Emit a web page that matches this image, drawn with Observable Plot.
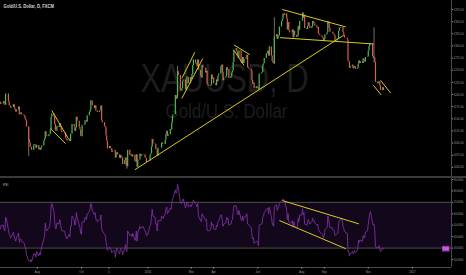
<!DOCTYPE html>
<html><head><meta charset="utf-8">
<script src="https://cdn.jsdelivr.net/npm/d3@7"></script>
<script src="https://cdn.jsdelivr.net/npm/@observablehq/plot@0.6"></script>
<style>
html,body{margin:0;padding:0;background:#000;overflow:hidden}
#wrap{position:relative;width:466px;height:275px;background:#000}
#price{position:absolute;left:0;top:0}
#rsi{position:absolute;left:0;top:177px}
#sep{position:absolute;left:0;top:176px;width:466px;height:1.5px;background:#3a3a3a}
svg{display:block}
</style></head><body>
<div id="wrap"><div id="price"></div><div id="rsi"></div><div id="sep"></div></div>
<script>
const title = "Gold/U.S. Dollar, D, FXCM";
const watermark = "XAUUSD, D";
const watermarkSub = "Gold/U.S. Dollar";
const startDate = "2015-06-11";
const firstOpen = 1184;
const closes = [
1180,1181,
1185,1180,1178,1201,1201, 1185,1177,1176,1172,1173, 1179,1172,1168,1164,1168,
1174,1158,1160,1162,1158, 1157,1155,1149,1146,1133, 1107,1101,1091,1091,1085, 1096,1095,1096,1089,1095,
1086,1089,1085,1090,1094, 1104,1108,1123,1115,1113, 1117,1118,1127,1153,1160, 1154,1138,1125,1124,1134, 1132,1140,1134,1125,1121,
1121,1121,1110,1108,1104, 1108,1103,1118,1118,1138, 1133,1124,1131,1153,1145, 1132,1127,1114,1113,1136,
1137,1146,1146,1143,1156, 1163,1167,1187,1186,1177, 1171,1176,1166,1166,1163, 1166,1166,1176,1146,1142,
1134,1132,1115,1104,1088, 1093,1089,1088,1081,1083, 1084,1069,1075,1080,1076, 1068,1074,1071,1069,1056, 1064,1069,1053,1051,1085,
1075,1074,1076,1071,1075, 1062,1061,1076,1050,1065, 1077,1073,1075,1075,1076, 1069,1068,1060,1062,1062,
1075,1078,1092,1107,1098, 1097,1086,1086,1072,1089, 1090,1090,1100,1098,1097, 1106,1118,1124,1114,1117,
1128,1127,1141,1156,1158, 1198,1190,1195,1247,1239, 1209,1207,1212,1227,1230, 1209,1221,1236,1235,1222, 1235,1231,1241,1259,1271,
1263,1261,1257,1271,1250, 1237,1234,1260,1254,1254, 1244,1248,1221,1218,1217, 1219,1240,1232,1234,1222,
1218,1230,1226,1238,1242, 1257,1260,1245,1228,1234, 1237,1255,1250,1251,1233, 1237,1244,1248,1266,1291,
1294,1288,1279,1275,1290, 1266,1264,1276,1264,1272, 1275,1281,1255,1253,1252, 1248,1229,1221,1223,1212, 1216,1216,1213,1210,1242,
1244,1245,1260,1263,1274, 1284,1284,1289,1279,1298, 1279,1268,1265,1263,1318, 1323,1313,1318,1321,1339,
1350,1355,1365,1363,1366, 1356,1333,1348,1331,1327, 1328,1333,1317,1330,1322, 1318,1320,1340,1332,1350,
1351,1368,1357,1363,1336, 1334,1340,1347,1341,1336, 1340,1350,1348,1345,1341, 1337,1338,1325,1323,1321, 1318,1316,1309,1313,1323,
1327,1350,1346,1336,1328, 1328,1324,1324,1321,1310, 1314,1314,1330,1336,1338, 1338,1327,1322,1317,1316,
1312,1269,1267,1254,1257, 1260,1253,1255,1257,1252, 1254,1262,1269,1264,1267, 1264,1273,1268,1267,1276, 1277,1289,1299,1303,1304,
1278,1274,1275,1266,1225, 1222,1225,1226,1217,1208,
1214,1208
];
const rsiValues = [
47,50,
50,46,45,57,56, 46,42,41,39,40, 44,40,38,36,39,
43,35,37,38,36, 35,34,31,29,24, 19,19,18,20,18, 25,24,25,22,27,
23,26,24,28,31, 38,41,52,47,45, 48,49,54,66,69, 62,53,47,47,52, 51,55,51,47,45,
45,45,40,40,38, 42,40,49,49,58, 55,50,53,61,57, 50,48,43,42,53,
53,57,57,55,60, 62,64,69,68,63, 59,61,55,55,53, 55,55,59,47,45,
42,41,36,32,28, 31,29,29,26,27, 28,22,27,30,28, 25,30,29,28,24, 30,33,28,27,45,
41,41,42,40,43, 37,37,45,36,43, 49,47,48,48,49, 45,44,41,42,42,
50,51,58,64,58, 57,51,51,45,54, 54,54,58,57,56, 60,64,66,60,61,
65,64,69,73,74, 81,78,79,86,83, 70,69,70,72,73, 65,67,70,70,66, 68,66,68,70,72,
69,68,66,69,58, 54,53,60,58,58, 54,55,46,45,45, 46,53,50,51,47,
46,50,49,53,54, 59,59,54,49,51, 52,57,55,56,50, 51,54,55,61,67,
67,64,60,59,63, 55,54,58,54,57, 58,60,51,51,50, 48,41,38,39,34, 36,36,35,32,50,
51,51,57,58,61, 64,64,65,60,66, 57,52,50,49,66, 68,63,65,66,69,
71,72,73,72,71, 64,55,60,53,52, 52,54,48,53,50, 48,49,56,53,59,
59,64,59,61,51, 50,52,55,53,51, 53,56,55,54,52, 50,51,46,45,44, 42,42,39,41,46,
48,58,56,51,48, 48,46,46,45,41, 43,43,51,54,55, 55,49,47,45,44,
43,27,27,23,25, 27,25,26,28,26, 28,33,37,35,37, 36,41,39,39,44, 45,51,56,60,62,
52,50,51,45,31, 30,31,32,29,27,
30,29
];
const wickDates = ["2015-07-20","2015-12-03","2016-02-11","2016-06-24","2016-11-09"];
const wickHighs = [1133,1062,1258,1358,1337];
const wickLows  = [1072,1046,1192,1262,1265];
const priceTicks = [1050,1075,1100,1125,1150,1175,1200,1225,1250,1275,1300,1325,1350,1375];
const rsiTicks = [20,30,40,50,60,70,80,90];
const rsiBand = [30,70];
const dateTickDates = ["2015-08-01","2015-10-01","2015-11-08","2016-01-01","2016-03-01","2016-04-01","2016-06-01","2016-08-01","2016-09-01","2016-11-01","2017-01-01"];
const dateTickLabels = ["Aug","Oct","5","2016","Mar","Apr","Jun","Aug","Sep","Nov","2017"];
const priceTrendFrom = [["2015-08-21",1167],["2015-08-19",1130],["2015-12-14",1045],["2016-02-17",1233],["2016-02-17",1192],["2016-04-29",1302],["2016-04-29",1291],["2016-07-05",1375],["2016-07-02",1317],["2016-11-08",1219],["2016-11-18",1229]];
const priceTrendTo   = [["2015-09-13",1109],["2015-09-09",1099],["2016-09-28",1322],["2016-03-06",1287],["2016-03-17",1274],["2016-05-21",1282],["2016-05-13",1260],["2016-10-01",1339],["2016-11-08",1304],["2016-11-19",1199],["2016-12-02",1203]];
const rsiTrendFrom = [["2016-07-05",71.6],["2016-07-01",54.1]];
const rsiTrendTo   = [["2016-10-19",51.2],["2016-10-01",29.4]];

const up = "#4fba55", down = "#d9604a", yellow = "#d8ca1e";
const D = s => new Date(s + "T00:00:00Z");
function tradingDates(start, n) {
  const out = []; let d = D(start);
  while (out.length < n) { const w = d.getUTCDay(); if (w !== 0 && w !== 6) out.push(new Date(d)); d = new Date(d.getTime() + 864e5); }
  return out;
}
const n = Math.min(closes.length, rsiValues.length);
const dates = tradingDates(startDate, n);
const bars = dates.map((d, i) => ({date: d, open: i ? closes[i - 1] : firstOpen, close: closes[i]}));
const rsiData = dates.map((d, i) => ({date: d, rsi: rsiValues[i]}));
const wicks = wickDates.map((d, i) => ({date: D(d), high: wickHighs[i], low: wickLows[i]}));
const pLinks = priceTrendFrom.map((f, i) => ({x1: D(f[0]), y1: f[1], x2: D(priceTrendTo[i][0]), y2: priceTrendTo[i][1]}));
const rLinks = rsiTrendFrom.map((f, i) => ({x1: D(f[0]), y1: f[1], x2: D(rsiTrendTo[i][0]), y2: rsiTrendTo[i][1]}));
const xStart = D(startDate);
const xEnd = new Date(xStart.getTime() + 624.2 * 864e5);
const labelMap = new Map(dateTickDates.map((d, i) => [+D(d), dateTickLabels[i]]));
const font = "'Liberation Sans', Arial, sans-serif";
const style = {background: "#000", color: "#9c9c9c", fontFamily: font, fontSize: "3.7px", overflow: "visible"};

const pricePlot = Plot.plot({
  width: 466, height: 177, marginTop: 0, marginBottom: 0, marginLeft: 0, marginRight: 15,
  style,
  x: {type: "utc", domain: [xStart, xEnd], axis: null},
  y: {domain: [1029, 1393.5], axis: null},
  color: {type: "identity"},
  marks: [
    Plot.text([watermark], {frameAnchor: "middle", dx: -1.5, dy: 2.5, lineAnchor: "bottom", fontSize: 40, fill: "#1d1d1d"}),
    Plot.text([watermarkSub], {frameAnchor: "middle", dx: 0.5, dy: 28.5, lineAnchor: "bottom", fontSize: 20, fill: "#1d1d1d"}),
    Plot.ruleX(wicks, {x: "date", y1: "low", y2: "high", stroke: "#8a8a8a", strokeWidth: 0.8}),
    Plot.ruleX(bars, {x: "date", y1: "open", y2: "close", stroke: d => d.close >= d.open ? up : down, strokeWidth: 1.2}),
    Plot.link(pLinks, {x1: "x1", y1: "y1", x2: "x2", y2: "y2", stroke: yellow, strokeWidth: 1}),
    Plot.ruleX([xEnd], {stroke: "#4a4a4a"}),
    Plot.axisY({anchor: "right", ticks: priceTicks, tickFormat: d => d.toFixed(2), tickSize: 1.2, tickPadding: 1, fontSize: 3.7}),
    Plot.text([title], {frameAnchor: "top-left", dx: 3, dy: 3.5, lineAnchor: "top", fontSize: 5.5, fontWeight: "bold", fill: "#d8d8d8"})
  ]
});

const rsiPlot = Plot.plot({
  width: 466, height: 98, marginTop: 0, marginBottom: 8, marginLeft: 0, marginRight: 15,
  style,
  x: {type: "utc", domain: [xStart, xEnd], axis: null},
  y: {domain: [13, 91.75], axis: null},
  marks: [
    Plot.rect([{a: xStart, b: xEnd, lo: rsiBand[0], hi: rsiBand[1]}], {x1: "a", x2: "b", y1: "lo", y2: "hi", fill: "#13081b"}),
    Plot.ruleY(rsiBand, {stroke: "#505050"}),
    Plot.ruleY([13], {stroke: "#4a4a4a"}),
    Plot.ruleX([xEnd], {stroke: "#4a4a4a"}),
    Plot.line(rsiData, {x: "date", y: "rsi", stroke: "#7a2f9e", strokeWidth: 0.9}),
    Plot.link(rLinks, {x1: "x1", y1: "y1", x2: "x2", y2: "y2", stroke: yellow, strokeWidth: 1}),
    Plot.axisY({anchor: "right", ticks: rsiTicks, tickFormat: d => d.toFixed(4), tickSize: 1.2, tickPadding: 1, fontSize: 3.5}),
    Plot.axisX({anchor: "bottom", ticks: dateTickDates.map(D), tickFormat: d => labelMap.get(+d), tickSize: 1.5, tickPadding: 1, fontSize: 3.8}),
    Plot.text(["RSI"], {frameAnchor: "top-left", dx: 2.5, dy: 5.5, lineAnchor: "top", fontSize: 4.3, fill: "#bdbdbd"})
  ]
});

document.getElementById("price").appendChild(pricePlot);
document.getElementById("rsi").appendChild(rsiPlot);

// last-value box on the RSI scale
const lastRsi = rsiValues[n - 1];
const ys = rsiPlot.scale("y").apply(lastRsi);
const xs = rsiPlot.scale("x").apply(xEnd);
const g = d3.select(rsiPlot).append("g");
g.append("rect").attr("x", xs - 9).attr("y", ys - 2.8).attr("width", 7.5).attr("height", 5.6).attr("fill", "#a535bd");
g.append("text").attr("x", xs - 5.25).attr("y", ys + 1.1).attr("text-anchor", "middle").attr("font-size", 3).attr("fill", "#f0d8f5").attr("font-family", font).text(lastRsi.toFixed(2));

// horizontally condensed text like the reference
d3.selectAll("svg text").each(function () {
  const t = this.textContent;
  const L = this.getComputedTextLength();
  let target = L * 0.75;
  if (t === watermark) target = 168;
  else if (t === watermarkSub) target = 122;
  if (L > 0) { this.setAttribute("textLength", target); this.setAttribute("lengthAdjust", "spacingAndGlyphs"); }
});
</script>
</body></html>
